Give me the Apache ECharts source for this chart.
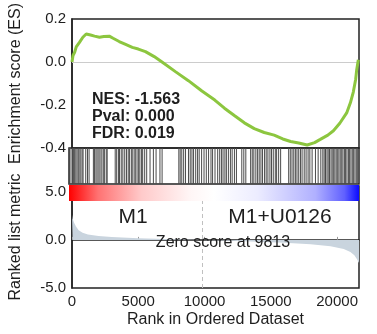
<!DOCTYPE html>
<html>
<head>
<meta charset="utf-8">
<script src="https://cdn.jsdelivr.net/npm/echarts@6/dist/echarts.min.js"></script>
<style>html,body{margin:0;padding:0;background:#fff}#c{width:377px;height:334px}</style>
</head>
<body>
<div id="c"></div>
<script>
// ---- data ----
var XMAX = 21650;
var xTicks = [0, 5000, 10000, 15000, 20000];
var esTicks = [-0.4, -0.2, 0.0, 0.2];
var metricTicks = [-5.0, 0.0, 5.0];

var esRanks  = [0, 75, 200, 320, 550, 820, 1070, 1400, 1700, 2070, 2400, 2810, 3100, 3560, 4000, 4550, 5000, 5540, 6200, 6790, 7800, 8780, 9800, 10770, 11500, 12270, 13000, 13750, 14500, 15250, 15900, 16490, 17100, 17740, 18300, 18730, 19300, 19720, 20200, 20720, 21000, 21220, 21400, 21470, 21600];
var esValues = [0.0, 0.03, 0.045, 0.07, 0.09, 0.115, 0.13, 0.125, 0.12, 0.115, 0.118, 0.12, 0.11, 0.095, 0.083, 0.068, 0.06, 0.048, 0.025, 0.0, -0.045, -0.087, -0.135, -0.177, -0.215, -0.25, -0.283, -0.31, -0.328, -0.34, -0.358, -0.37, -0.377, -0.386, -0.375, -0.36, -0.34, -0.32, -0.285, -0.237, -0.19, -0.14, -0.08, -0.04, 0.01];

var hitRanks = [40, 150, 260, 330, 420, 510, 600, 690, 760, 880, 980, 1050, 1250, 1380, 1500, 1820, 1900, 2010, 2100, 2230, 2320, 2450, 2560, 2640, 2780, 2850, 3450, 3560, 3690, 3770, 3900, 4020, 4160, 4290, 4420, 4510, 4650, 4720, 4860, 4950, 5080, 5200, 5290, 5420, 5500, 5650, 5800, 6050, 6300, 6500, 6790, 6950, 8200, 8300, 8420, 8560, 8700, 8920, 9050, 9180, 9300, 9460, 9600, 9720, 9900, 10080, 10250, 10420, 10600, 10720, 10900, 11100, 11250, 11380, 11500, 11640, 11750, 11900, 12050, 12180, 12350, 12500, 12900, 13050, 13200, 13560, 13680, 13800, 13950, 14080, 14200, 14330, 14450, 14600, 14720, 14850, 15000, 15120, 15250, 15400, 15500, 15650, 15800, 16400, 16520, 16650, 16780, 16900, 17020, 17150, 17280, 17400, 17560, 17700, 17850, 17980, 18150, 18400, 18600, 18800, 18950, 19050, 19150, 19260, 19350, 19450, 19560, 19650, 19760, 19850, 19950, 20060, 20150, 20250, 20360, 20450, 20560, 20650, 20750, 20860, 20950, 21050, 21150, 21250, 21350, 21450, 21550];

var metricRanks  = [0, 50, 150, 300, 500, 800, 1200, 2000, 3000, 5000, 7000, 9813, 12000, 14000, 16000, 18000, 19500, 20500, 21000, 21300, 21500, 21650];
var metricValues = [2.6, 2.2, 1.8, 1.4, 1.0, 0.75, 0.55, 0.4, 0.3, 0.18, 0.08, 0.0, -0.1, -0.2, -0.3, -0.45, -0.65, -0.95, -1.25, -1.6, -2.0, -2.4];

var zeroCross = 9813;
var statsLines = ['NES: -1.563', 'Pval: 0.000', 'FDR: 0.019'];
var groupLeft = 'M1', groupRight = 'M1+U0126';

// ---- chart ----
var FONT = '"Liberation Sans", Arial, sans-serif';
var TXT = '#1e1e1e';
function fmt1(v){ if (Math.abs(v) < 1e-9) return '0.0'; return v.toFixed(1); }
function zip(a,b){ return a.map(function(x,i){ return [x,b[i]]; }); }

var chart = echarts.init(document.getElementById('c'), null, {renderer:'canvas'});
var gridCommon = {left:69, right:18};
var option = {
  animation:false,
  textStyle:{fontFamily:FONT},
  grid:[
    Object.assign({top:11, height:137, show:true, borderColor:'#222', borderWidth:1.5}, gridCommon),
    Object.assign({top:148, height:36, show:true, borderColor:'#222', borderWidth:1.5}, gridCommon),
    Object.assign({top:185, height:16}, gridCommon),
    Object.assign({top:186, height:102, show:true, borderColor:'#222', borderWidth:1.5}, gridCommon)
  ],
  xAxis:[
    {type:'value', gridIndex:0, min:0, max:XMAX, show:false},
    {type:'value', gridIndex:1, min:0, max:XMAX, show:false},
    {type:'value', gridIndex:2, min:0, max:XMAX, show:false},
    {type:'value', gridIndex:3, min:0, max:XMAX, interval:5000,
     axisLine:{show:true, lineStyle:{color:'#222', width:1.5}},
     axisTick:{show:true, inside:true, length:3, lineStyle:{color:'#999'}},
     splitLine:{show:false},
     axisLabel:{fontSize:15, color:TXT, fontFamily:FONT, margin:6, showMaxLabel:false,
       formatter:function(v){ return xTicks.indexOf(v) >= 0 ? String(v) : ''; }},
     name:'Rank in Ordered Dataset', nameLocation:'middle', nameGap:24,
     nameTextStyle:{fontSize:16, color:TXT, fontFamily:FONT}}
  ],
  yAxis:[
    {type:'value', gridIndex:0, min:-0.4, max:0.2, interval:0.2,
     axisLine:{show:true, lineStyle:{color:'#222', width:1.5}}, axisTick:{show:false}, splitLine:{show:false},
     axisLabel:{fontSize:15, color:TXT, fontFamily:FONT, margin:6,
       formatter:function(v){ return esTicks.some(function(t){return Math.abs(t-v)<1e-9;}) ? fmt1(v) : ''; }},
     name:'Enrichment score (ES)', nameLocation:'middle', nameGap:48,
     nameTextStyle:{fontSize:16, color:TXT, fontFamily:FONT}},
    {type:'value', gridIndex:1, min:0, max:1, show:false},
    {type:'value', gridIndex:2, min:0, max:1, show:false},
    {type:'value', gridIndex:3, min:-5, max:5.6, interval:5,
     axisLine:{show:true, lineStyle:{color:'#222', width:1.5}}, axisTick:{show:false}, splitLine:{show:false},
     axisLabel:{fontSize:15, color:TXT, fontFamily:FONT, margin:6, showMaxLabel:false,
       formatter:function(v){ return metricTicks.some(function(t){return Math.abs(t-v)<1e-9;}) ? fmt1(v) : ''; }},
     name:'Ranked list metric', nameLocation:'middle', nameGap:48,
     nameTextStyle:{fontSize:16, color:TXT, fontFamily:FONT}}
  ],
  series:[
    {type:'line', xAxisIndex:0, yAxisIndex:0, data:zip(esRanks, esValues), showSymbol:false,
     lineStyle:{color:'#8cc63f', width:3}, z:5,
     markLine:{silent:true, symbol:'none', label:{show:false},
       lineStyle:{color:'#cccccc', width:1, type:'solid'}, data:[{yAxis:0}]}},
    {type:'custom', xAxisIndex:1, yAxisIndex:1, data:hitRanks.map(function(r){return [r];}),
     renderItem:function(params, api){
       var p0 = api.coord([api.value(0), 0]);
       var p1 = api.coord([api.value(0), 1]);
       return {type:'line', shape:{x1:p0[0], y1:p0[1], x2:p1[0], y2:p1[1]},
               style:{stroke:'#4a4a4a', lineWidth:1}};
     }},
    {type:'line', xAxisIndex:3, yAxisIndex:3, data:zip(metricRanks, metricValues), showSymbol:false,
     lineStyle:{width:0}, areaStyle:{color:'#c9d4de', opacity:1}, z:2,
     markLine:{silent:true, symbol:'none', label:{show:false},
       lineStyle:{color:'#c0c0c0', width:1, type:[4,3]}, data:[{xAxis:zeroCross}]}},
    {type:'custom', xAxisIndex:2, yAxisIndex:2, data:[[0, XMAX]], z:10,
     renderItem:function(params, api){
       var a = api.coord([api.value(0), 1]);
       var b = api.coord([api.value(1), 0]);
       return {type:'rect', shape:{x:a[0], y:a[1], width:b[0]-a[0], height:b[1]-a[1]},
         style:{fill:new echarts.graphic.LinearGradient(0,0,1,0,[
           {offset:0, color:'#ff0000'},
           {offset:0.1, color:'#ff7272'},
           {offset:0.25, color:'#ffcaca'},
           {offset:0.42, color:'#fff6f6'},
           {offset:0.5, color:'#ffffff'},
           {offset:0.65, color:'#ececff'},
           {offset:0.85, color:'#b0b0ff'},
           {offset:0.95, color:'#6060ff'},
           {offset:1, color:'#0a0aff'}])}};
     }}
  ],
  graphic:[
    {type:'text', left:92, top:92, z:20, style:{text:statsLines[0], font:'bold 16px '+FONT, fill:TXT}},
    {type:'text', left:92, top:109, z:20, style:{text:statsLines[1], font:'bold 16px '+FONT, fill:TXT}},
    {type:'text', left:92, top:126, z:20, style:{text:statsLines[2], font:'bold 16px '+FONT, fill:TXT}},
    {type:'text', x:133, y:217, z:20, style:{text:groupLeft, font:'21px '+FONT, fill:TXT, align:'center', verticalAlign:'middle'}},
    {type:'text', x:280, y:217, z:20, style:{text:groupRight, font:'21px '+FONT, fill:TXT, align:'center', verticalAlign:'middle'}},
    {type:'text', x:223, y:243, z:20, style:{text:'Zero score at ' + zeroCross, font:'16px '+FONT, fill:TXT, align:'center', verticalAlign:'middle'}}
  ]
};
chart.setOption(option);
</script>
</body>
</html>
